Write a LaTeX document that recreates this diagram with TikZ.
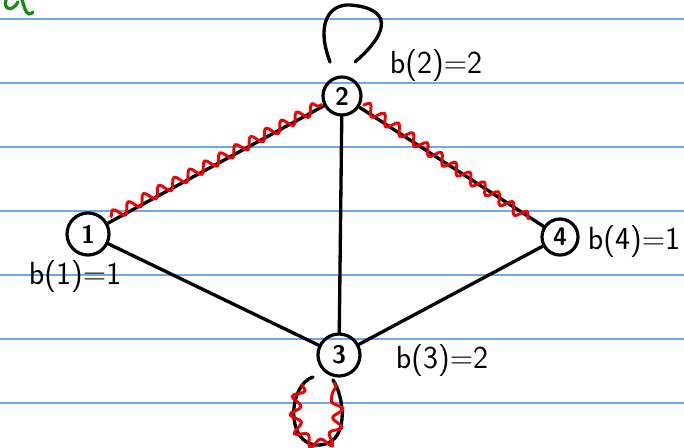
\documentclass[tikz,border=0pt]{standalone}
\usetikzlibrary{decorations.pathmorphing}
\definecolor{ruleblue}{RGB}{110,170,235}
\definecolor{pengreen}{RGB}{20,140,20}
\definecolor{penred}{RGB}{240,0,0}
\begin{document}
\begin{tikzpicture}[x=0.75pt,y=-0.75pt,
  vert/.style={draw,circle,line width=2.4pt,inner sep=0pt,font=\fontsize{19}{19}\selectfont\sffamily\bfseries},
  edge/.style={line width=2.5pt,line cap=round},
  wave/.style={penred,line width=2.2pt,line join=round,decorate,decoration={snake,amplitude=4pt,segment length=13pt}},
  lab/.style={font=\fontsize{24}{28}\selectfont\sffamily,anchor=center}]
\useasboundingbox (0,0) rectangle (684,447);
\fill[white] (0,0) rectangle (684,447);
% ruled lines
\foreach \yy in {19,83,147,211,275,339,403}
  \draw[ruleblue,line width=1.5pt] (0,\yy) -- (684,\yy);
% green mark
\draw[pengreen,line width=2.4pt,line cap=round] (6,0) .. controls (3,9) and (12,13) .. (18,2);
\draw[pengreen,line width=2.4pt,line cap=round] (22,0) -- (25,9) .. controls (27,15) and (31,15) .. (33,12);
% vertices
\node[vert,minimum size=42pt*0.75] (n1) at (88,234) {1};
\node[vert,minimum size=38pt*0.75] (n2) at (342,96) {2};
\node[vert,minimum size=42pt*0.75] (n3) at (339,355) {3};
\node[vert,minimum size=36pt*0.75] (n4) at (560,237) {4};
% edges
\draw[edge] (n1) -- (n2);
\draw[edge] (n2) -- (n3);
\draw[edge] (n2) -- (n4);
\draw[edge] (n3) -- (n4);
\draw[edge] (n1) -- (n3);
% loop at 2
\coordinate (l2a) at (330,62);
\coordinate (l2b) at (355,62);
\draw[edge] (l2a) .. controls (316,25) and (328,4) .. (350,5) .. controls (390,8) and (392,30) .. (l2b);
% loop at 3
\coordinate (l3a) at (313,377);
\coordinate (l3b) at (333,380);
\draw[edge] (l3a) .. controls (288,385) and (285,445) .. (318,445) .. controls (350,445) and (345,398) .. (l3b);
% red waves
\draw[wave] ([shift={(4,-4)}]n1.35) -- ([shift={(-2,-2)}]n2.210);
\draw[wave] ([shift={(2,0)}]n2.-25) -- ([shift={(-14,-8)}]n4.150);
\draw[wave] (302,384) .. controls (292,410) and (296,437) .. (320,440) .. controls (342,440) and (342,405) .. (334,382);
% labels
\node[lab] (b1) at (75,277) {b(1)=1};
\node[lab] (b2) at (436,66) {b(2)=2};
\node[lab] (b3) at (442,361) {b(3)=2};
\node[lab] (b4) at (634,242) {b(4)=1};
\end{tikzpicture}
\end{document}
